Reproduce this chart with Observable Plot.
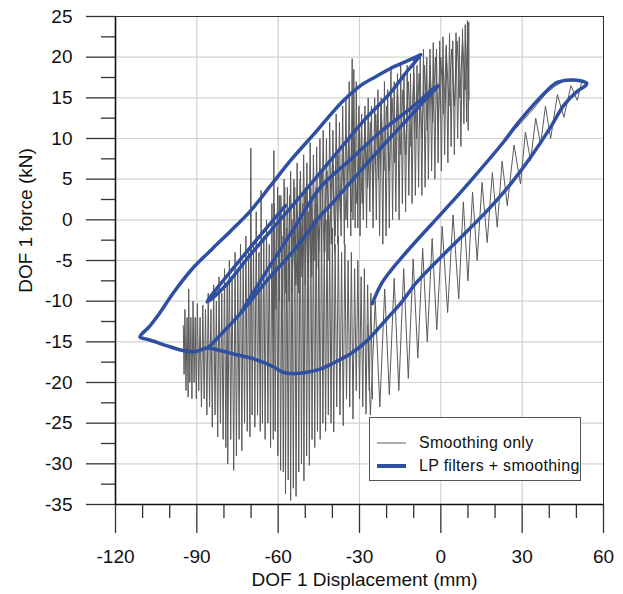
<!DOCTYPE html>
<html><head><meta charset="utf-8">
<script src="https://cdn.jsdelivr.net/npm/d3@7"></script>
<script src="https://cdn.jsdelivr.net/npm/@observablehq/plot@0.6"></script>
<style>
body{margin:0;background:#fff;}
#wrap{position:relative;width:623px;height:594px;font-family:"Liberation Sans",Arial,sans-serif;}
#legend{position:absolute;left:369px;top:417px;width:210px;height:62px;border:1px solid #555;background:#fff;}
#legend .row{position:absolute;left:0;height:20px;width:210px;}
#legend .sw{position:absolute;left:7px;width:29px;}
#legend .lab{position:absolute;left:49px;font-size:16px;line-height:20px;color:#111;white-space:nowrap;letter-spacing:0.3px;}
</style></head><body><div id="wrap"></div>
<script>
// ---- data ----
const xTicks = [-120, -90, -60, -30, 0, 30, 60];
const xMinor = [-110, -100, -80, -70, -50, -40, -20, -10, 10, 20, 40, 50];
const yTicks = [-35, -30, -25, -20, -15, -10, -5, 0, 5, 10, 15, 20, 25];
const yMinor = [-32.5, -27.5, -22.5, -17.5, -12.5, -7.5, -2.5, 2.5, 7.5, 12.5, 17.5, 22.5];
const xLabel = "DOF 1 Displacement (mm)";
const yLabel = "DOF 1 force (kN)";
const seriesNames = ["Smoothing only", "LP filters + smoothing"];

// LP filters + smoothing (blue)
const blueMain = [[-7.5,20.3],[-12,19.6],[-18.6,18.6],[-24,17.6],[-29.6,16.5],[-35.8,14.7],[-40.5,13.0],[-45.6,11.0],[-55.4,7.3],[-62.8,4.2],[-70.2,1.1],[-77.6,-1.4],[-83.2,-3.2],[-85,-3.8],[-91.1,-5.8],[-98.5,-8.9],[-104,-11.6],[-108,-13.3],[-110.2,-14.0],[-111,-14.4],[-109.5,-14.6],[-107.1,-14.8],[-100.9,-15.5],[-94.8,-16.1],[-90.5,-16.2],[-86.2,-15.75],[-81,-16.1],[-76.4,-16.5],[-69,-17.1],[-65,-17.6],[-61.6,-18.1],[-58.5,-18.7],[-55.4,-18.9],[-49.3,-18.75],[-44,-18.3],[-39.6,-17.6],[-33,-16.4],[-27.2,-14.85],[-20,-12.2],[-14.9,-10.3],[-8.7,-7.6],[3.6,-3.4],[15.9,0.7],[25.7,4.4],[33.1,7.7],[40.5,11.4],[45.4,14.1],[50.3,15.8],[53.4,16.5],[53.8,16.8],[51.5,17.1],[47.8,17.2],[42.9,16.9],[39.2,15.9],[28.2,11.8],[23.2,9.6],[11,4.8],[1.1,1.1],[-11.2,-3.4],[-18.6,-6.3],[-22,-7.9],[-25.3,-10.3]];
const blueReturn = [[-7.5,20.3],[-10,19.2],[-12.4,18.3],[-14.9,17.2],[-18.6,15.6],[-22.3,14.3],[-28.4,12.2],[-34.5,9.8],[-40.7,7.3],[-51,3.2],[-61.6,-0.9],[-71,-4.6],[-80,-8.3],[-86.2,-10.1],[-72,-4.1],[-57.3,1.75]];
const blueMiddle = [[-85.7,-15.7],[-80,-13.7],[-73.9,-11.5],[-64,-7.4],[-54.3,-3.8],[-44.4,0.5],[-40.7,1.8],[-30,5.9],[-20,9.6],[-10,13.2],[-3.5,15.6],[-0.85,16.5],[-2.5,16.2],[-10,14],[-22.3,10.8],[-33,7.5],[-44.4,4.0],[-55,-1.5],[-65,-6.7],[-73.9,-11.5]];

// Smoothing only (gray)
const grayLow = [[-95.0,-13],[-94.7,-19],[-94.4,-11],[-94.0,-21],[-93.6,-12],[-93.2,-21.8],[-93.0,-8.5],[-92.6,-20],[-92.2,-12],[-91.8,-22],[-91.4,-10],[-91.0,-20],[-90.6,-12],[-90.2,-22],[-89.8,-10.3],[-89.3,-21],[-88.8,-12],[-88.3,-23],[-87.8,-10.5],[-87.3,-22],[-86.8,-11],[-86.3,-24],[-85.8,-9],[-85.3,-23],[-84.8,-11],[-84.3,-25.5],[-83.8,-8],[-83.3,-24],[-82.8,-10],[-82.3,-26.7],[-81.8,-7],[-81.3,-25],[-80.8,-9],[-80.3,-27],[-79.8,-6],[-79.3,-28],[-78.8,-8],[-78.6,-30],[-78.0,-5],[-77.5,-27],[-77.0,-7],[-76.4,-30.8],[-75.9,-4],[-75.4,-29],[-74.9,-6],[-74.4,-27],[-73.9,-3],[-73.4,-28.4],[-72.9,-5],[-72.4,-25],[-71.9,-2],[-71.4,-26],[-70.9,-4],[-70.4,-26.7],[-70.1,8.8],[-69.6,-24],[-69.1,-3],[-68.6,-25.5],[-68.1,1],[-67.6,-24],[-67.1,-4],[-66.6,-26],[-66.3,3.6],[-65.8,-25],[-65.3,-2],[-64.8,-27],[-64.3,0],[-63.8,-25],[-63.3,-3],[-62.8,-28],[-62.3,2],[-61.8,-27],[-61.6,8.5],[-61.1,-26],[-60.6,-1],[-60.1,-29],[-59.6,3],[-59.1,-30.8],[-58.6,-2],[-58.1,-31],[-57.6,4],[-57.3,-33.7],[-56.8,-1],[-56.3,-32],[-55.8,3],[-55.4,-34.5],[-54.9,0],[-54.4,-33],[-53.9,4],[-53.4,-34],[-52.9,1],[-52.4,-31],[-51.9,5],[-51.4,-30],[-50.9,2],[-50.5,-32.1],[-50.0,4],[-49.5,-29],[-49.0,1],[-48.5,-30.2],[-48.0,3],[-47.5,-27],[-47.0,0],[-46.5,-28],[-46.0,2],[-45.5,-26],[-45.0,-1],[-44.5,-27],[-44.0,1],[-43.5,-25],[-43.0,-2],[-42.5,-26],[-42.0,0],[-41.5,-24],[-41.0,-2],[-40.5,-25],[-40.0,-1],[-39.5,-26.1],[-39.0,-3],[-38.4,-23],[-37.8,-2],[-37.2,-24],[-36.6,-4],[-36.0,-25.3],[-35.4,-3],[-34.8,-22],[-34.2,-5],[-33.6,-23],[-33.0,-4],[-32.4,-24.5],[-31.8,-6],[-31.2,-21],[-30.6,-5],[-30.0,-22],[-29.4,-7],[-28.8,-23],[-28.2,-6],[-27.6,-23.9],[-27.0,-8],[-26.4,-21],[-25.8,-9],[-25.2,-22]];
const grayBand = [[-62,-12],[-61.4,2],[-60.8,-11],[-60.2,4],[-59.6,-10],[-59,3],[-58.4,-11],[-57.8,5],[-57.2,-9],[-56.6,4],[-56,-10],[-55.4,6],[-54.8,-9],[-54.2,5],[-53.6,-8],[-53,7],[-52.4,-9],[-51.8,6],[-51.2,-7],[-50.6,8],[-50,-8],[-49.4,7],[-48.8,-6],[-48.2,9.5],[-47.6,-7],[-47,8],[-46.4,-5],[-45.8,9],[-45.2,-6],[-44.6,10],[-44,-5],[-43.4,11],[-42.8,-4],[-42.2,10],[-41.6,-5],[-41,12],[-40.4,-3],[-39.8,11],[-39.2,-4],[-38.6,13],[-38,-3],[-37.4,12],[-36.8,-2],[-36.2,14],[-35.6,-3],[-35,15],[-34.4,-1],[-33.8,17],[-33.2,-2],[-32.7,19.8],[-32.4,0],[-32.1,18.5],[-31.6,-1],[-31.2,17],[-30.6,-1],[-30.2,14],[-29.8,-2],[-29.2,13],[-28.6,0],[-28,14],[-27.4,-1],[-26.8,15],[-26.2,1],[-25.6,14],[-25,-1],[-24.4,15],[-23.8,0],[-23.2,16],[-22.6,-2],[-22,15],[-21.4,-3],[-20.8,17],[-20.2,-2],[-19.6,16],[-19,-1],[-18.4,18.8],[-17.8,0],[-17.2,17],[-16.6,1],[-16,18],[-15.4,0],[-14.8,19],[-14.2,2],[-13.6,18],[-13,1],[-12.4,19],[-11.8,3],[-11.2,18],[-10.6,2],[-10,20],[-9.4,3],[-8.8,19],[-8.2,4],[-7.6,20],[-7,3],[-6.4,21],[-5.8,4],[-5.2,20],[-4.6,5],[-4,21],[-3.4,6],[-2.8,21.8],[-2.2,5],[-1.6,21],[-1,7],[-0.4,22],[0.2,6],[0.8,22.5],[1.4,8],[2,21.5],[2.6,7],[3.2,22.9],[3.8,9],[4.4,22],[5,8],[5.6,23],[6.2,10],[6.8,22.5],[7.4,9],[8,23.5],[8.5,11.8],[9,24],[9.5,12],[9.8,24.5],[10.1,11],[10.3,24.3],[10.4,14.7]];
const grayBand2 = [[-55,-9],[-54,1],[-53,-8],[-52,2],[-51,-7],[-50,3],[-49,-7],[-48,4],[-47,-5],[-46,4],[-45,-4],[-44,6],[-43,-4],[-42,6],[-41,-2],[-40,7],[-39,-2],[-38,8],[-37,0],[-36,9],[-35,0],[-34,10],[-33,1],[-32,10],[-31,2],[-30,11],[-29,2],[-28,12],[-27,4],[-26,12],[-25,4],[-24,13],[-23,5],[-22,14],[-21,6],[-20,14],[-19,6],[-18,15],[-17,7],[-16,16],[-15,8],[-14,16],[-13,8],[-12,17],[-11,9],[-10,18],[-9,10],[-8,18],[-7,10],[-6,19],[-5,11],[-4,19],[-3,12],[-2,20],[-1,12],[0,20],[1,13],[2,21],[3,14],[4,21],[5,14],[6,22],[7,15],[8,22],[9,16],[10,23]];
const grayRight = [[-27,-13],[-26,-24],[-24.2,-10],[-22.5,-23],[-20.7,-8.5],[-19,-21.5],[-17.2,-7.2],[-15.5,-21],[-13.7,-6],[-12,-19.5],[-10.2,-4.8],[-8.5,-17],[-6.7,-3.5],[-5,-15],[-3.2,-2.3],[-1.5,-13.5],[0.5,-0.8],[2.5,-11.4],[4.5,0.6],[6.6,-9.7],[8.3,2.2],[10,-7.5],[11.7,3.4],[13.4,-5],[15.2,4.6],[17.1,-2.8],[19,5.8],[20.8,-0.9],[22.6,7.2],[24.5,1.75],[27,9.2],[29.4,4.4],[31.2,10.8],[33.1,7.3],[35,12.5],[36.8,9.3],[38.6,14],[40.5,10],[43,15.4],[45.4,12.6],[48,16.5],[50.3,14.7],[52,17],[53.8,16.7],[52.5,17.1],[50.5,17.2],[48,17.3],[45,17],[42,16.4],[39,15.6],[36,14.4],[33,13.2],[30,12.1],[27,11],[24,9.8]];

// ---- build tables ----
const toRows = (arr, s) => arr.map(([x, y]) => ({x, y, s}));
const grayData = [...toRows(grayLow, "g1"), ...toRows(grayBand, "g2"), ...toRows(grayBand2, "g4"), ...toRows(grayRight, "g3")];
const blueData = [...toRows(blueMain, "b1"), ...toRows(blueReturn, "b2"), ...toRows(blueMiddle, "b3")];

const GRAY = "#5a5a5a", BLUE = "#2f4fa2";
const FONT = "Liberation Sans, Arial, sans-serif";
const noLabel = () => "";

const chart = Plot.plot({
  width: 623, height: 594,
  marginLeft: 115, marginRight: 20, marginTop: 16, marginBottom: 90,
  style: {fontFamily: FONT, fontSize: "19px", color: "#111", background: "#fff", overflow: "visible"},
  x: {domain: [-120, 60]},
  y: {domain: [-35, 25]},
  marks: [
    Plot.gridX(xTicks, {stroke: "#d2d2d2", strokeOpacity: 1, strokeWidth: 1.2}),
    Plot.gridY(yTicks, {stroke: "#d2d2d2", strokeOpacity: 1, strokeWidth: 1.2}),
    Plot.line(grayData, {x: "x", y: "y", z: "s", stroke: GRAY, strokeWidth: 1}),
    Plot.line(blueData, {x: "x", y: "y", z: "s", stroke: BLUE, strokeWidth: 3.5, curve: "catmull-rom", strokeLinejoin: "round", strokeLinecap: "round"}),
    Plot.frame({stroke: "#333", strokeWidth: 1}),
    Plot.axisX(xTicks, {tickSize: 29, tickPadding: 16, tickFormat: d => String(d), label: null, stroke: "#333", strokeWidth: 1.3, fontSize: 19}),
    Plot.axisX(xMinor, {tickSize: 14, tickFormat: noLabel, label: null, stroke: "#333", strokeWidth: 1.3}),
    Plot.axisY(yTicks, {tickSize: 29, tickPadding: 14, tickFormat: d => String(d), label: null, stroke: "#333", strokeWidth: 1.3, fontSize: 19}),
    Plot.axisY(yMinor, {tickSize: 14, tickFormat: noLabel, label: null, stroke: "#333", strokeWidth: 1.3}),
    Plot.ruleX([-120], {stroke: "#111", strokeWidth: 1.6}),
    Plot.ruleY([-35], {stroke: "#111", strokeWidth: 1.6}),
    Plot.text([xLabel], {frameAnchor: "bottom", dx: 5, dy: 81, fontSize: 19, fill: "#111"}),
    Plot.text([yLabel], {frameAnchor: "left", textAnchor: "middle", rotate: -90, dx: -90, dy: -40, fontSize: 19, fill: "#111"})
  ]
});
const wrap = document.getElementById("wrap");
wrap.appendChild(chart);

const legend = document.createElement("div");
legend.id = "legend";
legend.innerHTML =
  `<div class="row" style="top:15px"><svg class="sw" width="29" height="20" style="top:0"><line x1="0" x2="29" y1="10" y2="10" stroke="${GRAY}" stroke-width="1"/></svg><span class="lab">${seriesNames[0]}</span></div>` +
  `<div class="row" style="top:38px"><svg class="sw" width="29" height="20" style="top:0"><line x1="0" x2="29" y1="10" y2="10" stroke="${BLUE}" stroke-width="4"/></svg><span class="lab">${seriesNames[1]}</span></div>`;
wrap.appendChild(legend);
</script></body></html>
